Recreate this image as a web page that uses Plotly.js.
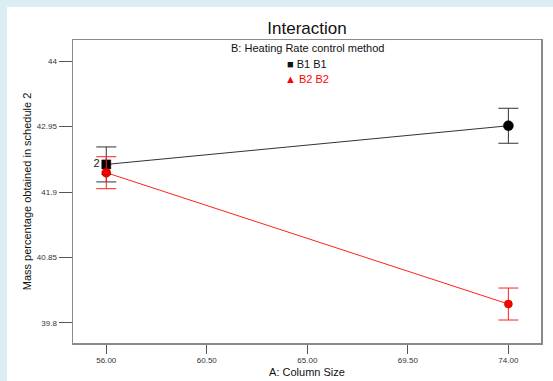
<!DOCTYPE html>
<html><head><meta charset="utf-8">
<script src="https://cdn.plot.ly/plotly-3.0.1.min.js"></script>
<style>html,body{margin:0;padding:0;background:#d9edf3;}#chart{width:553px;height:381px;}</style>
</head><body><div id="chart"></div>
<script>
const columnSize = [56, 74];
const b1Values = [42.343, 42.964];
const b1Err = [0.281, 0.281];
const b2Values = [42.21, 40.1];
const b2Err = [0.257, 0.257];
const xTickVals = [56, 60.5, 65, 69.5, 74];
const xTickText = ['56.00', '60.50', '65.00', '69.50', '74.00'];
const yTickVals = [39.8, 40.85, 41.9, 42.95, 44];
const yTickText = ['39.8', '40.85', '41.9', '42.95', '44'];
const seriesNames = ['B1 B1', 'B2 B2'];

const traces = [
  {x: columnSize, y: b1Values, type: 'scatter', mode: 'lines+markers+text',
   line: {color: '#333333', width: 1},
   marker: {color: '#000000', opacity: 1, size: [9, 10], symbol: ['square', 'circle'], line: {color: '#000000', width: 0.5}},
   error_y: {type: 'data', array: b1Err, color: '#333333', thickness: 1, width: 10},
   text: ['2', ''], textposition: 'middle left', textfont: {family: 'Liberation Sans, Arial, sans-serif', size: 11, color: '#222'},
   showlegend: false, hoverinfo: 'none'},
  {x: columnSize, y: b2Values, type: 'scatter', mode: 'lines+markers',
   line: {color: '#ff2020', width: 1},
   marker: {color: '#ff0000', opacity: 1, size: [9, 8], symbol: ['circle', 'circle'], line: {color: '#aa0000', width: 0.5}},
   error_y: {type: 'data', array: b2Err, color: '#ff2020', thickness: 1, width: 10},
   showlegend: false, hoverinfo: 'none'},
  {x: [columnSize[0]], y: [b2Values[0]], type: 'scatter', mode: 'markers',
   marker: {color: '#ff0000', opacity: 1, size: 8, symbol: 'triangle-up', line: {color: '#880000', width: 0.5}},
   showlegend: false, hoverinfo: 'none'}
];

const font = 'Liberation Sans, Arial, sans-serif';
const layout = {
  width: 553, height: 381,
  margin: {l: 73, r: 12, t: 40, b: 38, pad: 0},
  paper_bgcolor: '#d9edf3', plot_bgcolor: '#ffffff',
  font: {family: font, color: '#222'},
  title: {text: 'Interaction', font: {family: font, size: 17, color: '#111'}, x: 0.5, xanchor: 'center', y: 0.9265, yanchor: 'middle', xref: 'paper'},
  xaxis: {range: [54.51, 75.46], tickvals: xTickVals, ticktext: xTickText,
    ticks: 'outside', ticklen: 9, tickcolor: '#555', tickwidth: 1,
    showline: true, mirror: true, linecolor: '#8a8a8a', linewidth: 1.5,
    showgrid: false, zeroline: false, tickfont: {family: font, size: 8, color: '#333'},
    title: {text: 'A: Column Size', font: {family: font, size: 11, color: '#111'}, standoff: 4}},
  yaxis: {range: [39.474, 44.342], tickvals: yTickVals, ticktext: yTickText,
    ticks: 'outside', ticklen: 13, tickcolor: '#555', tickwidth: 1,
    showline: true, mirror: true, linecolor: '#8a8a8a', linewidth: 1.5,
    showgrid: false, zeroline: false, tickfont: {family: font, size: 8, color: '#333'},
    title: {text: 'Mass percentage obtained in schedule 2', font: {family: font, size: 11, color: '#111'}, standoff: 3}},
  shapes: [
    {type: 'rect', xref: 'paper', yref: 'paper', x0: -0.141, x1: 1.03, y0: -0.13, y1: 1.109,
     fillcolor: '#ffffff', line: {width: 0}, layer: 'below'}
  ],
  annotations: [
    {xref: 'paper', yref: 'paper', x: 0.5, y: 0.975, text: 'B: Heating Rate control method', showarrow: false,
     font: {family: font, size: 11, color: '#111'}, xanchor: 'center', yanchor: 'middle'},
    {xref: 'paper', yref: 'paper', x: 0.5, y: 0.921, text: '<span style="font-size:11px">■</span> ' + seriesNames[0], showarrow: false,
     font: {family: font, size: 11, color: '#111'}, xanchor: 'center', yanchor: 'middle'},
    {xref: 'paper', yref: 'paper', x: 0.5, y: 0.870, text: '<span style="font-size:11px">▲</span> ' + seriesNames[1], showarrow: false,
     font: {family: font, size: 11, color: '#ff0000'}, xanchor: 'center', yanchor: 'middle'}
  ]
};
Plotly.newPlot('chart', traces, layout, {displayModeBar: false, staticPlot: true});
</script></body></html>
